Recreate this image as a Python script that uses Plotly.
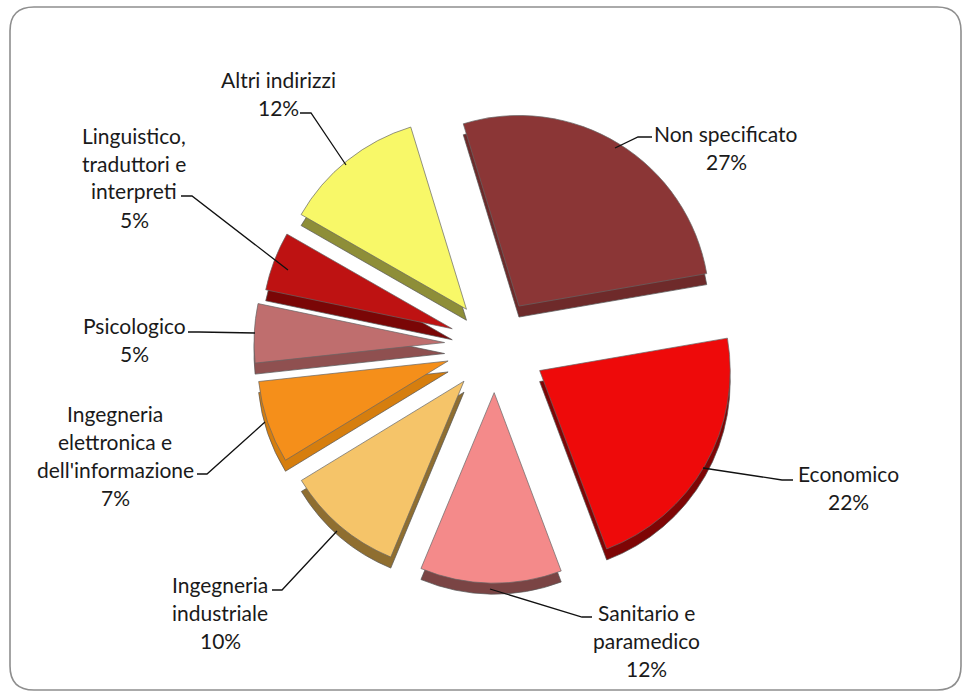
import plotly.graph_objects as go

categories = ["Non specificato", "Economico", "Sanitario e paramedico", "Ingegneria industriale",
              "Ingegneria elettronica e dell'informazione", "Psicologico",
              "Linguistico, traduttori e interpreti", "Altri indirizzi"]
values = [27, 22, 12, 10, 7, 5, 5, 12]
pulls = [0.24, 0.27, 0.25, 0.25, 0.26, 0.265, 0.24, 0.24]
top_colors = ["#8B3636", "#EE0A0A", "#F48A8A", "#F5C469", "#F58F1A", "#BF6E6E", "#BE1212", "#F8F868"]
side_colors = ["#6E2A2A", "#7E0505", "#7A4444", "#8F6E30", "#D67E0E", "#8F5050", "#7A0606", "#8E8E38"]

label_lines = [
    ["Non specificato", "27%"],
    ["Economico", "22%"],
    ["Sanitario e", "paramedico", "12%"],
    ["Ingegneria", "industriale", "10%"],
    ["Ingegneria", "elettronica e", "dell'informazione", "7%"],
    ["Psicologico", "5%"],
    ["Linguistico,", "traduttori e", "interpreti", "5%"],
    ["Altri indirizzi", "12%"],
]
label_tops = [(726, 133), (848, 473), (646, 612), (220, 584), (115, 413), (134, 325), (134, 135), (278, 80)]
leaders = [
    [(652, 137), (638, 137), (615, 148)],
    [(793, 480), (782, 480), (703, 468)],
    [(592, 617), (582, 617), (490, 589)],
    [(272, 590), (282, 590), (337, 531)],
    [(197, 474), (207, 474), (265, 422)],
    [(188, 332), (199, 332), (255, 333)],
    [(181, 196), (192, 196), (288, 270)],
    [(300, 113), (311, 113), (346, 165)],
]

W, H = 971, 695
CX, CY, RD = 495, 345, 242
DEPTH = 11


def px(x):
    return x / W


def py(y):
    return 1 - y / H


def pie(colors, dy, line_color):
    return go.Pie(
        labels=categories, values=values, sort=False, direction="clockwise", rotation=-17,
        pull=pulls, textinfo="none", showlegend=False,
        marker=dict(colors=colors, line=dict(color=line_color, width=0.7)),
        domain=dict(x=[px(CX - RD), px(CX + RD)], y=[py(CY + dy + RD), py(CY + dy - RD)]),
    )


fig = go.Figure([pie(side_colors, DEPTH, "#555555"), pie(top_colors, 0, "#666666")])

annotations = []
LINE = 28
for lines, (cx, top) in zip(label_lines, label_tops):
    for i, t in enumerate(lines):
        annotations.append(dict(text=t, x=px(cx), y=py(top + i * LINE), xref="paper", yref="paper",
                                showarrow=False, xanchor="center", yanchor="middle",
                                font=dict(family="Lato", size=21, color="#1A1A1A")))

shapes = [dict(type="path", xref="paper", yref="paper",
               path="M %f,%f L %f,%f L %f,%f" % (px(a[0]), py(a[1]), px(b[0]), py(b[1]), px(c[0]), py(c[1])),
               line=dict(color="#111111", width=1.3)) for a, b, c in leaders]

L, T, R_, B, r = 10, 7, 961, 690, 24
shapes.append(dict(type="path", xref="paper", yref="paper", layer="below",
                   path=("M %f,%f L %f,%f Q %f,%f %f,%f L %f,%f Q %f,%f %f,%f L %f,%f Q %f,%f %f,%f L %f,%f Q %f,%f %f,%f Z" % (
                       px(L + r), py(T), px(R_ - r), py(T), px(R_), py(T), px(R_), py(T + r),
                       px(R_), py(B - r), px(R_), py(B), px(R_ - r), py(B),
                       px(L + r), py(B), px(L), py(B), px(L), py(B - r),
                       px(L), py(T + r), px(L), py(T), px(L + r), py(T))),
                   line=dict(color="#8E8E8E", width=1.6)))

fig.update_layout(width=W, height=H, margin=dict(l=0, r=0, t=0, b=0), paper_bgcolor="white",
                  annotations=annotations, shapes=shapes)
fig.write_html("out.html", config={"displayModeBar": False}, post_script="document.body.style.margin='0';")
